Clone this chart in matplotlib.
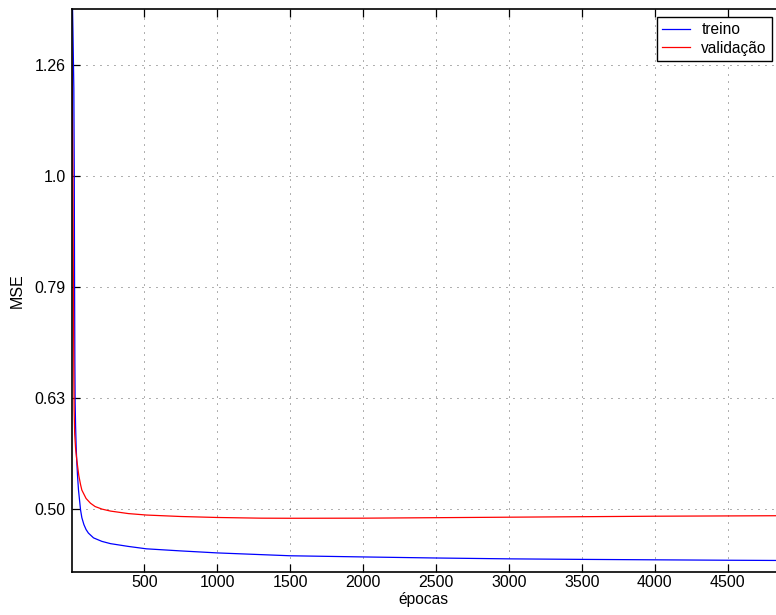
import matplotlib
matplotlib.use("Agg")
import matplotlib.pyplot as plt
import numpy as np

plt.rcParams['font.family'] = ['Liberation Sans', 'DejaVu Sans']

# data
epochs_treino = [0, 10, 16, 19, 21, 23, 25, 28, 32, 36, 42, 48, 62, 71, 85, 100,
                 116, 151, 208, 267, 390, 514, 750, 1000, 1500, 2000, 2500, 3000,
                 3500, 4000, 4500, 4830]
mse_treino = [1.6, 1.35, 1.2, 1.0, 0.8, 0.68, 0.625, 0.595, 0.57, 0.553, 0.535,
              0.521, 0.500, 0.492, 0.485, 0.480, 0.4765, 0.4718, 0.4684, 0.4662,
              0.4635, 0.4612, 0.4592, 0.4573, 0.4546, 0.4535, 0.4525, 0.4517,
              0.4512, 0.4508, 0.4504, 0.4502]

epochs_valid = [0, 5, 10, 13, 16, 18, 22, 28, 36, 50, 62, 71, 100, 130, 162, 210,
                267, 390, 514, 750, 1000, 1300, 1500, 2000, 2500, 3000, 3500, 4000,
                4500, 4830]
mse_valid = [1.32, 1.2, 1.0, 0.8, 0.66, 0.615, 0.585, 0.568, 0.555, 0.537, 0.527,
             0.521, 0.512, 0.507, 0.5035, 0.5008, 0.4988, 0.4962, 0.4947, 0.4932,
             0.4922, 0.4915, 0.4914, 0.4915, 0.492, 0.4925, 0.493, 0.4935, 0.4938,
             0.494]

xticks = [500, 1000, 1500, 2000, 2500, 3000, 3500, 4000, 4500]
yticks = [10**-0.3, 10**-0.2, 10**-0.1, 10**0, 10**0.1]
yticklabels = ['0.50', '0.63', '0.79', '1.0', '1.26']

W, H = 776, 615
fig = plt.figure(figsize=(W / 100, H / 100), dpi=100)
ax = fig.add_axes([71.5 / W, 1 - 572 / H, (776 - 71.5) / W, (572 - 9) / H])

ax.plot(epochs_treino, mse_treino, color='#0000ff', lw=0.9, label='treino')
ax.plot(epochs_valid, mse_valid, color='#ff0000', lw=0.9, label='validação')

ax.set_yscale('log')
ax.set_xlim(0, 4830)
ax.set_ylim(10**-0.357, 10**0.1505)
ax.set_xticks(xticks)
ax.set_xticklabels([str(t) for t in xticks])
ax.set_yticks(yticks)
ax.set_yticklabels(yticklabels)
ax.yaxis.set_minor_locator(matplotlib.ticker.NullLocator())
ax.tick_params(direction='in', length=5.5, width=0.9, top=True, right=False,
               labelsize=11.5, colors='black')
ax.tick_params(axis='y', pad=4)
ax.tick_params(axis='x', pad=2.5)
ax.grid(True, linestyle=(0, (1, 6.2)), color='black', lw=0.7, alpha=0.65)
for s in ['left', 'bottom', 'top']:
    ax.spines[s].set_linewidth(1.2)
ax.spines['right'].set_visible(False)

ax.set_xlabel('épocas', fontsize=11.2, labelpad=1)
ax.set_ylabel('MSE', fontsize=11.5, labelpad=7)

leg = ax.legend(loc='upper left', bbox_to_anchor=(657 / W, 1 - 17 / H),
                bbox_transform=fig.transFigure, fancybox=False, framealpha=1,
                edgecolor='black', fontsize=11.2, borderaxespad=0, handlelength=1.8,
                handletextpad=0.7, labelspacing=0.2, borderpad=0.35)
leg.get_frame().set_linewidth(1.0)

fig.savefig('out.png', dpi=100)
